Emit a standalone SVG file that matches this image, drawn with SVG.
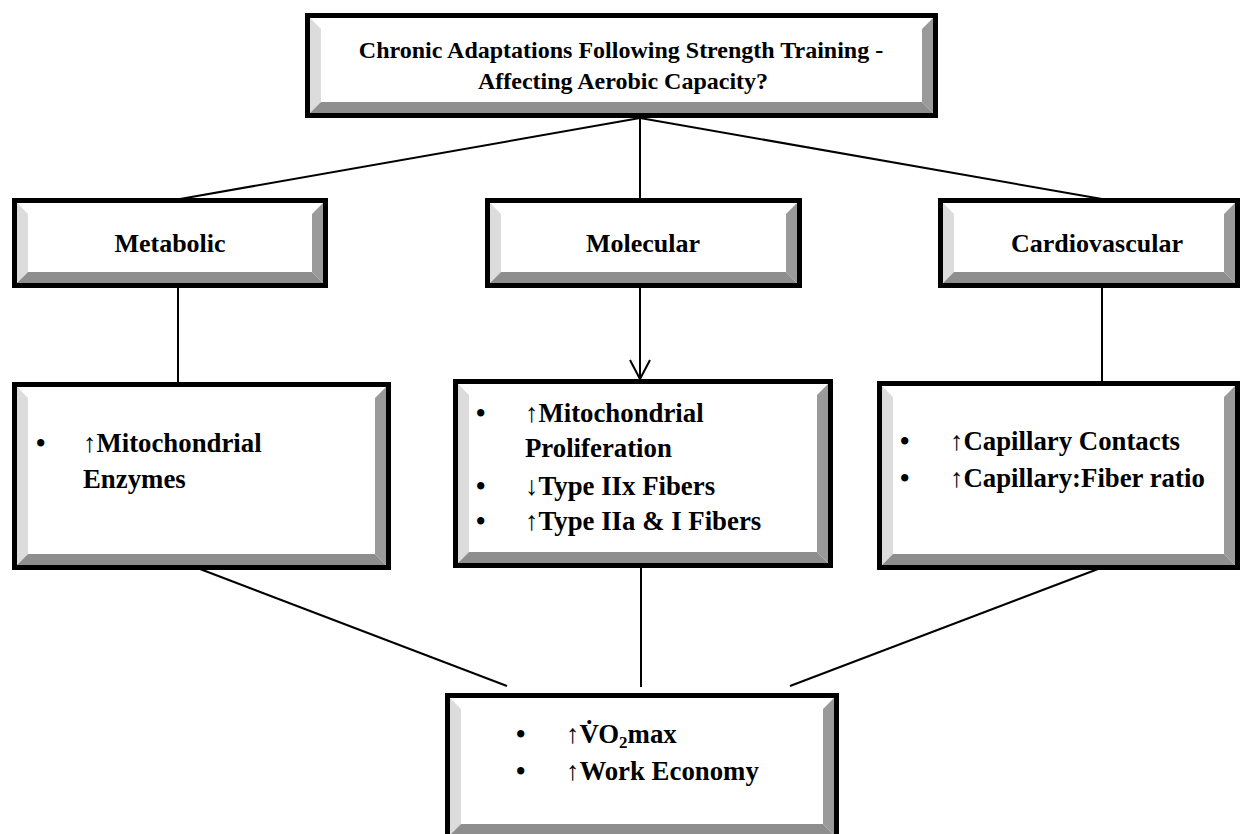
<svg xmlns="http://www.w3.org/2000/svg" width="1243" height="834" viewBox="0 0 1243 834">
<defs>
<style>
.frame{fill:#000}
.face{fill:#fff}
.bl{fill:#dcdcdc}
.br{fill:#9a9a9a}
.bb{fill:#8e8e8e}
.t{font-family:"Liberation Serif","Times New Roman",serif;font-weight:bold;font-size:26px;fill:#000}
.tt{font-size:24px}
.b{font-size:26.8px}
.c{text-anchor:middle}
.ar{font-weight:normal}
.con{stroke:#000;stroke-width:2;fill:none}
</style>
</defs>
<rect width="1243" height="834" fill="#fff"/>

<g id="connectors">
<line class="con" x1="640" y1="118" x2="180" y2="199"/>
<line class="con" x1="640" y1="118" x2="640" y2="199"/>
<line class="con" x1="640" y1="118" x2="1102" y2="199"/>
<line class="con" x1="178" y1="288" x2="178" y2="383"/>
<line class="con" x1="640" y1="288" x2="640" y2="379"/>
<path class="con" d="M630 360 L640 379 L650 360"/>
<line class="con" x1="1102" y1="288" x2="1102" y2="382"/>
<line class="con" x1="200" y1="569" x2="507" y2="686"/>
<line class="con" x1="641" y1="568" x2="641" y2="687"/>
<line class="con" x1="1098" y1="569" x2="790" y2="686"/>
</g>

<g id="title">
<rect class="frame" x="305" y="13" width="633" height="105"/>
<rect class="face" x="310" y="18" width="623" height="95"/>
<polygon class="bl" points="310,18 321,29 321,102 310,113"/>
<polygon class="br" points="933,18 922,29 922,102 933,113"/>
<polygon class="bb" points="310,113 321,102 922,102 933,113"/>
<text class="t tt c" x="621" y="58">Chronic Adaptations Following Strength Training -</text>
<text class="t tt c" x="623" y="89">Affecting Aerobic Capacity?</text>
</g>

<g id="metabolic">
<rect class="frame" x="12" y="198" width="316" height="90"/>
<rect class="face" x="17" y="203" width="306" height="80"/>
<polygon class="bl" points="17,203 28,214 28,272 17,283"/>
<polygon class="br" points="323,203 312,214 312,272 323,283"/>
<polygon class="bb" points="17,283 28,272 312,272 323,283"/>
<text class="t c" x="170" y="252">Metabolic</text>
</g>

<g id="molecular">
<rect class="frame" x="485" y="198" width="317" height="90"/>
<rect class="face" x="490" y="203" width="307" height="80"/>
<polygon class="bl" points="490,203 501,214 501,272 490,283"/>
<polygon class="br" points="797,203 786,214 786,272 797,283"/>
<polygon class="bb" points="490,283 501,272 786,272 797,283"/>
<text class="t c" x="643" y="252">Molecular</text>
</g>

<g id="cardiovascular">
<rect class="frame" x="938" y="198" width="302" height="90"/>
<rect class="face" x="943" y="203" width="292" height="80"/>
<polygon class="bl" points="943,203 954,214 954,272 943,283"/>
<polygon class="br" points="1235,203 1224,214 1224,272 1235,283"/>
<polygon class="bb" points="943,283 954,272 1224,272 1235,283"/>
<text class="t c" x="1097" y="252">Cardiovascular</text>
</g>

<g id="metabolic-detail">
<rect class="frame" x="12" y="382" width="379" height="188"/>
<rect class="face" x="17" y="387" width="369" height="178"/>
<polygon class="bl" points="17,387 28,398 28,554 17,565"/>
<polygon class="br" points="386,387 375,398 375,554 386,565"/>
<polygon class="bb" points="17,565 28,554 375,554 386,565"/>
<text class="t b" x="36" y="452">•</text>
<text class="t b" x="83" y="452"><tspan class="ar">↑</tspan>Mitochondrial</text>
<text class="t b" x="83" y="488">Enzymes</text>
</g>

<g id="molecular-detail">
<rect class="frame" x="453" y="379" width="380" height="189"/>
<rect class="face" x="458" y="384" width="370" height="179"/>
<polygon class="bl" points="458,384 469,395 469,552 458,563"/>
<polygon class="br" points="828,384 817,395 817,552 828,563"/>
<polygon class="bb" points="458,563 469,552 817,552 828,563"/>
<text class="t b" x="476" y="422">•</text>
<text class="t b" x="525" y="422"><tspan class="ar">↑</tspan>Mitochondrial</text>
<text class="t b" x="525" y="457">Proliferation</text>
<text class="t b" x="476" y="495">•</text>
<text class="t b" x="525" y="495"><tspan class="ar">↓</tspan>Type IIx Fibers</text>
<text class="t b" x="476" y="530">•</text>
<text class="t b" x="525" y="530"><tspan class="ar">↑</tspan>Type IIa &amp; I Fibers</text>
</g>

<g id="cardiovascular-detail">
<rect class="frame" x="877" y="381" width="363" height="189"/>
<rect class="face" x="882" y="386" width="353" height="179"/>
<polygon class="bl" points="882,386 893,397 893,554 882,565"/>
<polygon class="br" points="1235,386 1224,397 1224,554 1235,565"/>
<polygon class="bb" points="882,565 893,554 1224,554 1235,565"/>
<text class="t b" x="900" y="450">•</text>
<text class="t b" x="950" y="450"><tspan class="ar">↑</tspan>Capillary Contacts</text>
<text class="t b" x="900" y="487">•</text>
<text class="t b" x="950" y="487"><tspan class="ar">↑</tspan>Capillary:Fiber ratio</text>
</g>

<g id="outcome">
<rect class="frame" x="445" y="693" width="394" height="147"/>
<rect class="face" x="450" y="698" width="384" height="137"/>
<polygon class="bl" points="450,698 461,709 461,824 450,835"/>
<polygon class="br" points="834,698 823,709 823,824 834,835"/>
<polygon class="bb" points="450,835 461,824 823,824 834,835"/>
<text class="t b" x="516" y="743">•</text>
<text class="t b" x="566" y="743"><tspan class="ar">↑</tspan>V̇O<tspan font-size="17" dy="5">2</tspan><tspan dy="-5">max</tspan></text>
<text class="t b" x="516" y="780">•</text>
<text class="t b" x="566" y="780"><tspan class="ar">↑</tspan>Work Economy</text>
</g>
</svg>
